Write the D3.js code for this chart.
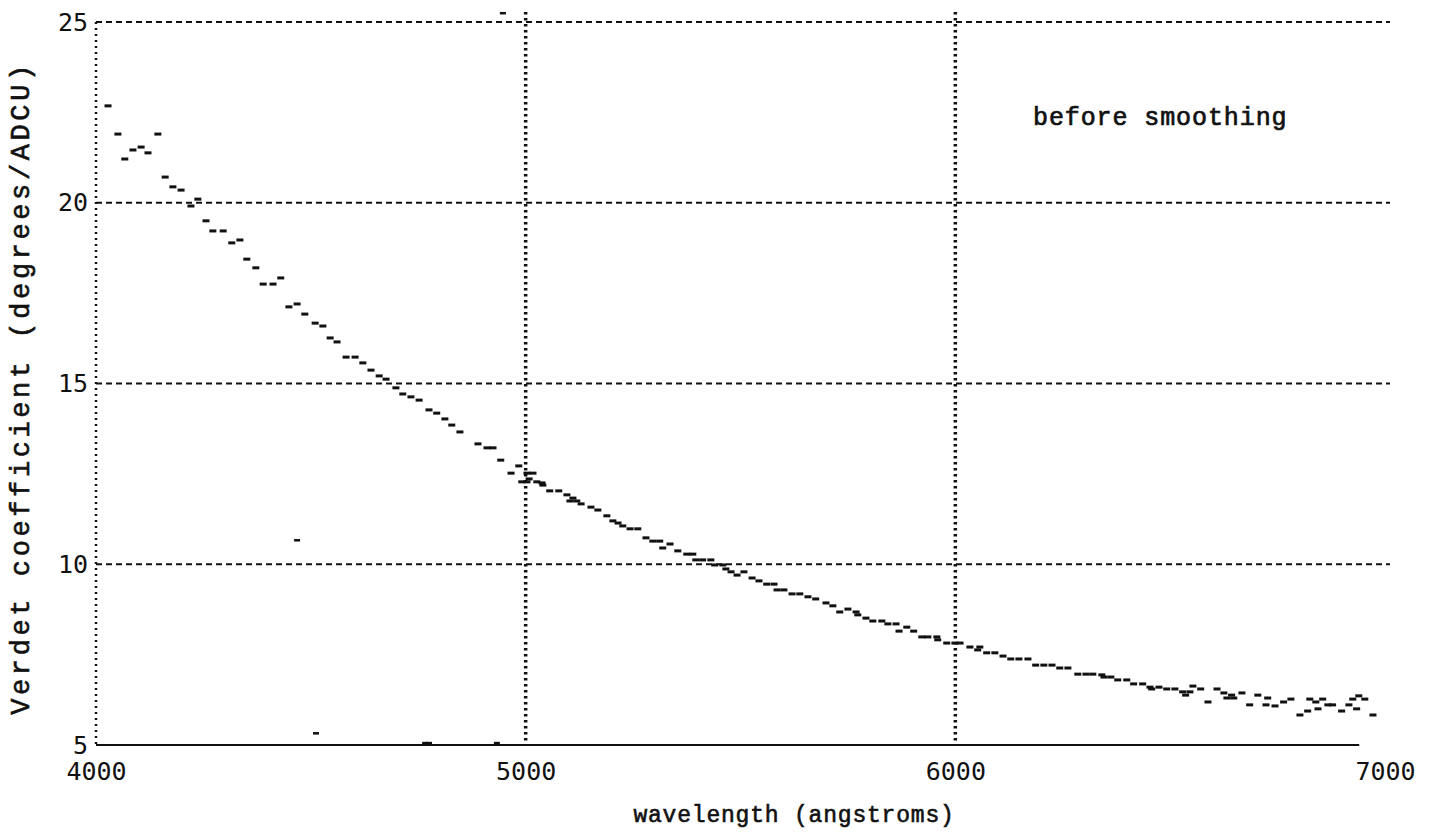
<!DOCTYPE html>
<html>
<head>
<meta charset="utf-8">
<script src="https://cdn.jsdelivr.net/npm/d3@7"></script>
<style>
  body { margin: 0; background: #fff; }
  svg { display: block; }
</style>
</head>
<body>
<svg id="chart" width="1429" height="836"></svg>
<script>
// wavelength (angstroms) of each plotted sample
const wavelengths = [
  4028, 4051, 4067, 4086, 4105, 4121, 4144, 4161, 4179, 4198, 4221, 4237, 4256, 4272, 4296,
  4316, 4335, 4351, 4372, 4389, 4412, 4430, 4449, 4468, 4486, 4510, 4528, 4545, 4561, 4582,
  4603, 4621, 4640, 4659, 4675, 4698, 4714, 4733, 4752, 4775, 4793, 4812, 4828, 4847, 4889,
  4910, 4924, 4942, 4966, 4984, 5003, 5017, 5008, 4991, 5003, 5026, 5038, 5040, 5056, 5077,
  5096, 5110, 5103, 5119, 5129, 5152, 5168, 5189, 5203, 5215, 5226, 5243, 5261, 5280, 5296,
  5312, 5319, 5336, 5354, 5375, 5389, 5396, 5412, 5431, 5440, 5459, 5466, 5478, 5492, 5508,
  5527, 5543, 5561, 5578, 5585, 5601, 5620, 5638, 5657, 5675, 5699, 5715, 5731, 5750, 5769,
  5773, 5792, 5808, 5829, 5843, 5862, 5869, 5887, 5903, 5922, 5936, 5957, 5959, 5980, 5999,
  6011, 6034, 6052, 6057, 6073, 6092, 6111, 6129, 6148, 6169, 6187, 6206, 6225, 6243, 6262,
  6285, 6304, 6320, 6341, 6346, 6362, 6378, 6399, 6415, 6436, 6453, 6457, 6474, 6492, 6511,
  6529, 6536, 6546, 6553, 6571, 6588, 6609, 6625, 6632, 6643, 6648, 6667, 6685, 6704, 6723,
  6727, 6744, 6764, 6781, 6802, 6820, 6825, 6839, 6844, 6855, 6867, 6878, 6899, 6916, 6925,
  6934, 6939, 6953, 6972
];
// Verdet coefficient (degrees/ADCU) for each sample, same order
const verdet = [
  22.68, 21.90, 21.21, 21.46, 21.54, 21.38, 21.90, 20.71, 20.44, 20.35, 19.91, 20.10, 19.50, 19.22, 19.22,
  18.89, 18.97, 18.44, 18.20, 17.75, 17.75, 17.92, 17.12, 17.20, 16.92, 16.67, 16.59, 16.26, 16.15, 15.73,
  15.73, 15.57, 15.37, 15.21, 15.12, 14.88, 14.71, 14.63, 14.54, 14.27, 14.18, 14.02, 13.85, 13.66, 13.33,
  13.22, 13.22, 12.88, 12.52, 12.72, 12.52, 12.52, 12.36, 12.28, 12.28, 12.28, 12.25, 12.19, 12.03, 12.03,
  11.92, 11.83, 11.75, 11.75, 11.67, 11.58, 11.50, 11.34, 11.20, 11.14, 11.06, 10.98, 10.98, 10.73, 10.64,
  10.64, 10.45, 10.56, 10.37, 10.28, 10.28, 10.12, 10.12, 10.12, 9.98, 9.98, 9.87, 9.79, 9.70, 9.79,
  9.62, 9.54, 9.45, 9.45, 9.29, 9.29, 9.18, 9.18, 9.10, 9.04, 8.93, 8.85, 8.68, 8.76, 8.68,
  8.60, 8.51, 8.43, 8.43, 8.35, 8.35, 8.15, 8.26, 8.15, 7.99, 7.99, 7.99, 7.91, 7.82, 7.82,
  7.82, 7.71, 7.63, 7.71, 7.55, 7.55, 7.46, 7.38, 7.38, 7.38, 7.21, 7.21, 7.21, 7.13, 7.13,
  6.96, 6.96, 6.96, 6.94, 6.88, 6.88, 6.80, 6.80, 6.69, 6.69, 6.60, 6.55, 6.60, 6.55, 6.55,
  6.47, 6.38, 6.47, 6.63, 6.55, 6.19, 6.55, 6.44, 6.30, 6.38, 6.30, 6.44, 6.11, 6.38, 6.11,
  6.30, 6.08, 6.19, 6.27, 5.83, 5.94, 6.27, 6.19, 6.00, 6.27, 6.11, 6.11, 5.94, 6.11, 6.27,
  6.00, 6.36, 6.27, 5.83
];
// a few stray marks on the scanned plot
const strayWl = [4468, 4512, 4766, 4775, 4933, 4947];
const strayVal = [10.67, 5.33, 5.06, 5.06, 5.06, 25.25];

const xTicks = [4000, 5000, 6000, 7000];
const yTicks = [5, 10, 15, 20, 25];
const yGrid = [10, 15, 20, 25];
const xGrid = [5000, 6000];

const svg = d3.select("#chart");

const x = d3.scaleLinear().domain([4000, 7000]).range([96, 1385]);
const y = d3.scaleLinear().domain([5, 25]).range([745, 22]);

const ink = "#111";

// horizontal dashed grid
svg.append("g")
  .selectAll("line")
  .data(yGrid)
  .enter()
  .append("line")
  .attr("x1", x(4000))
  .attr("x2", x(7000) + 5)
  .attr("y1", d => y(d))
  .attr("y2", d => y(d))
  .attr("stroke", ink)
  .attr("stroke-width", 2)
  .attr("stroke-dasharray", "6,4");

// vertical dotted grid
svg.append("g")
  .selectAll("line")
  .data(xGrid)
  .enter()
  .append("line")
  .attr("x1", d => x(d))
  .attr("x2", d => x(d))
  .attr("y1", y(25) - 10)
  .attr("y2", y(5))
  .attr("stroke", ink)
  .attr("stroke-width", 3.5)
  .attr("stroke-dasharray", "2.5,3.5");

// left axis: dotted line
svg.append("line")
  .attr("x1", x(4000))
  .attr("x2", x(4000))
  .attr("y1", y(25))
  .attr("y2", y(5))
  .attr("stroke", ink)
  .attr("stroke-width", 2.5)
  .attr("stroke-dasharray", "2,4");

// bottom axis: solid line
svg.append("line")
  .attr("x1", x(4000))
  .attr("x2", x(6940))
  .attr("y1", y(5))
  .attr("y2", y(5))
  .attr("stroke", ink)
  .attr("stroke-width", 2.2);

const xAxis = svg.append("g")
  .attr("transform", `translate(0, ${y(5)})`)
  .call(d3.axisBottom(x).tickValues(xTicks).tickFormat(d3.format("d")).tickSize(0).tickPadding(17));
xAxis.select(".domain").remove();
xAxis.selectAll("text")
  .attr("fill", ink)
  .style("font-family", "'DejaVu Sans Mono', monospace")
  .style("font-size", "25px");

const yAxis = svg.append("g")
  .attr("transform", `translate(${x(4000)}, 0)`)
  .call(d3.axisLeft(y).tickValues(yTicks).tickFormat(d3.format("d")).tickSize(0).tickPadding(8));
yAxis.select(".domain").remove();
yAxis.selectAll("text")
  .attr("fill", ink)
  .style("font-family", "'DejaVu Sans Mono', monospace")
  .style("font-size", "25px");

// data marks: short horizontal dashes
const points = wavelengths.map((w, i) => ({ w: w, v: verdet[i] }));
svg.append("g")
  .selectAll("rect")
  .data(points)
  .enter()
  .append("rect")
  .attr("x", d => x(d.w) - 3.5)
  .attr("y", d => y(d.v) - 1.5)
  .attr("width", 7)
  .attr("height", 3)
  .attr("fill", ink);

const stray = strayWl.map((w, i) => ({ w: w, v: strayVal[i] }));
svg.append("g")
  .selectAll("rect")
  .data(stray)
  .enter()
  .append("rect")
  .attr("x", d => x(d.w) - 3)
  .attr("y", d => y(d.v) - 1)
  .attr("width", 6)
  .attr("height", 2.5)
  .attr("fill", ink);

// labels (typewriter face, thickened a little with a stroke)
svg.append("text")
  .attr("x", 1033)
  .attr("y", 125)
  .attr("fill", ink)
  .attr("stroke", ink)
  .attr("stroke-width", 0.7)
  .style("font-family", "'Liberation Mono', monospace")
  .style("font-size", "25px")
  .style("letter-spacing", "0.9px")
  .text("before smoothing");

svg.append("text")
  .attr("x", 794)
  .attr("y", 822)
  .attr("text-anchor", "middle")
  .attr("fill", ink)
  .attr("stroke", ink)
  .attr("stroke-width", 0.6)
  .style("font-family", "'Liberation Mono', monospace")
  .style("font-size", "23px")
  .style("letter-spacing", "0.8px")
  .text("wavelength (angstroms)");

svg.append("text")
  .attr("transform", "translate(29, 388) rotate(-90)")
  .attr("text-anchor", "middle")
  .attr("fill", ink)
  .attr("stroke", ink)
  .attr("stroke-width", 0.6)
  .style("font-family", "'Liberation Mono', monospace")
  .style("font-size", "27px")
  .style("letter-spacing", "3.6px")
  .text("Verdet coefficient (degrees/ADCU)");
</script>
</body>
</html>
